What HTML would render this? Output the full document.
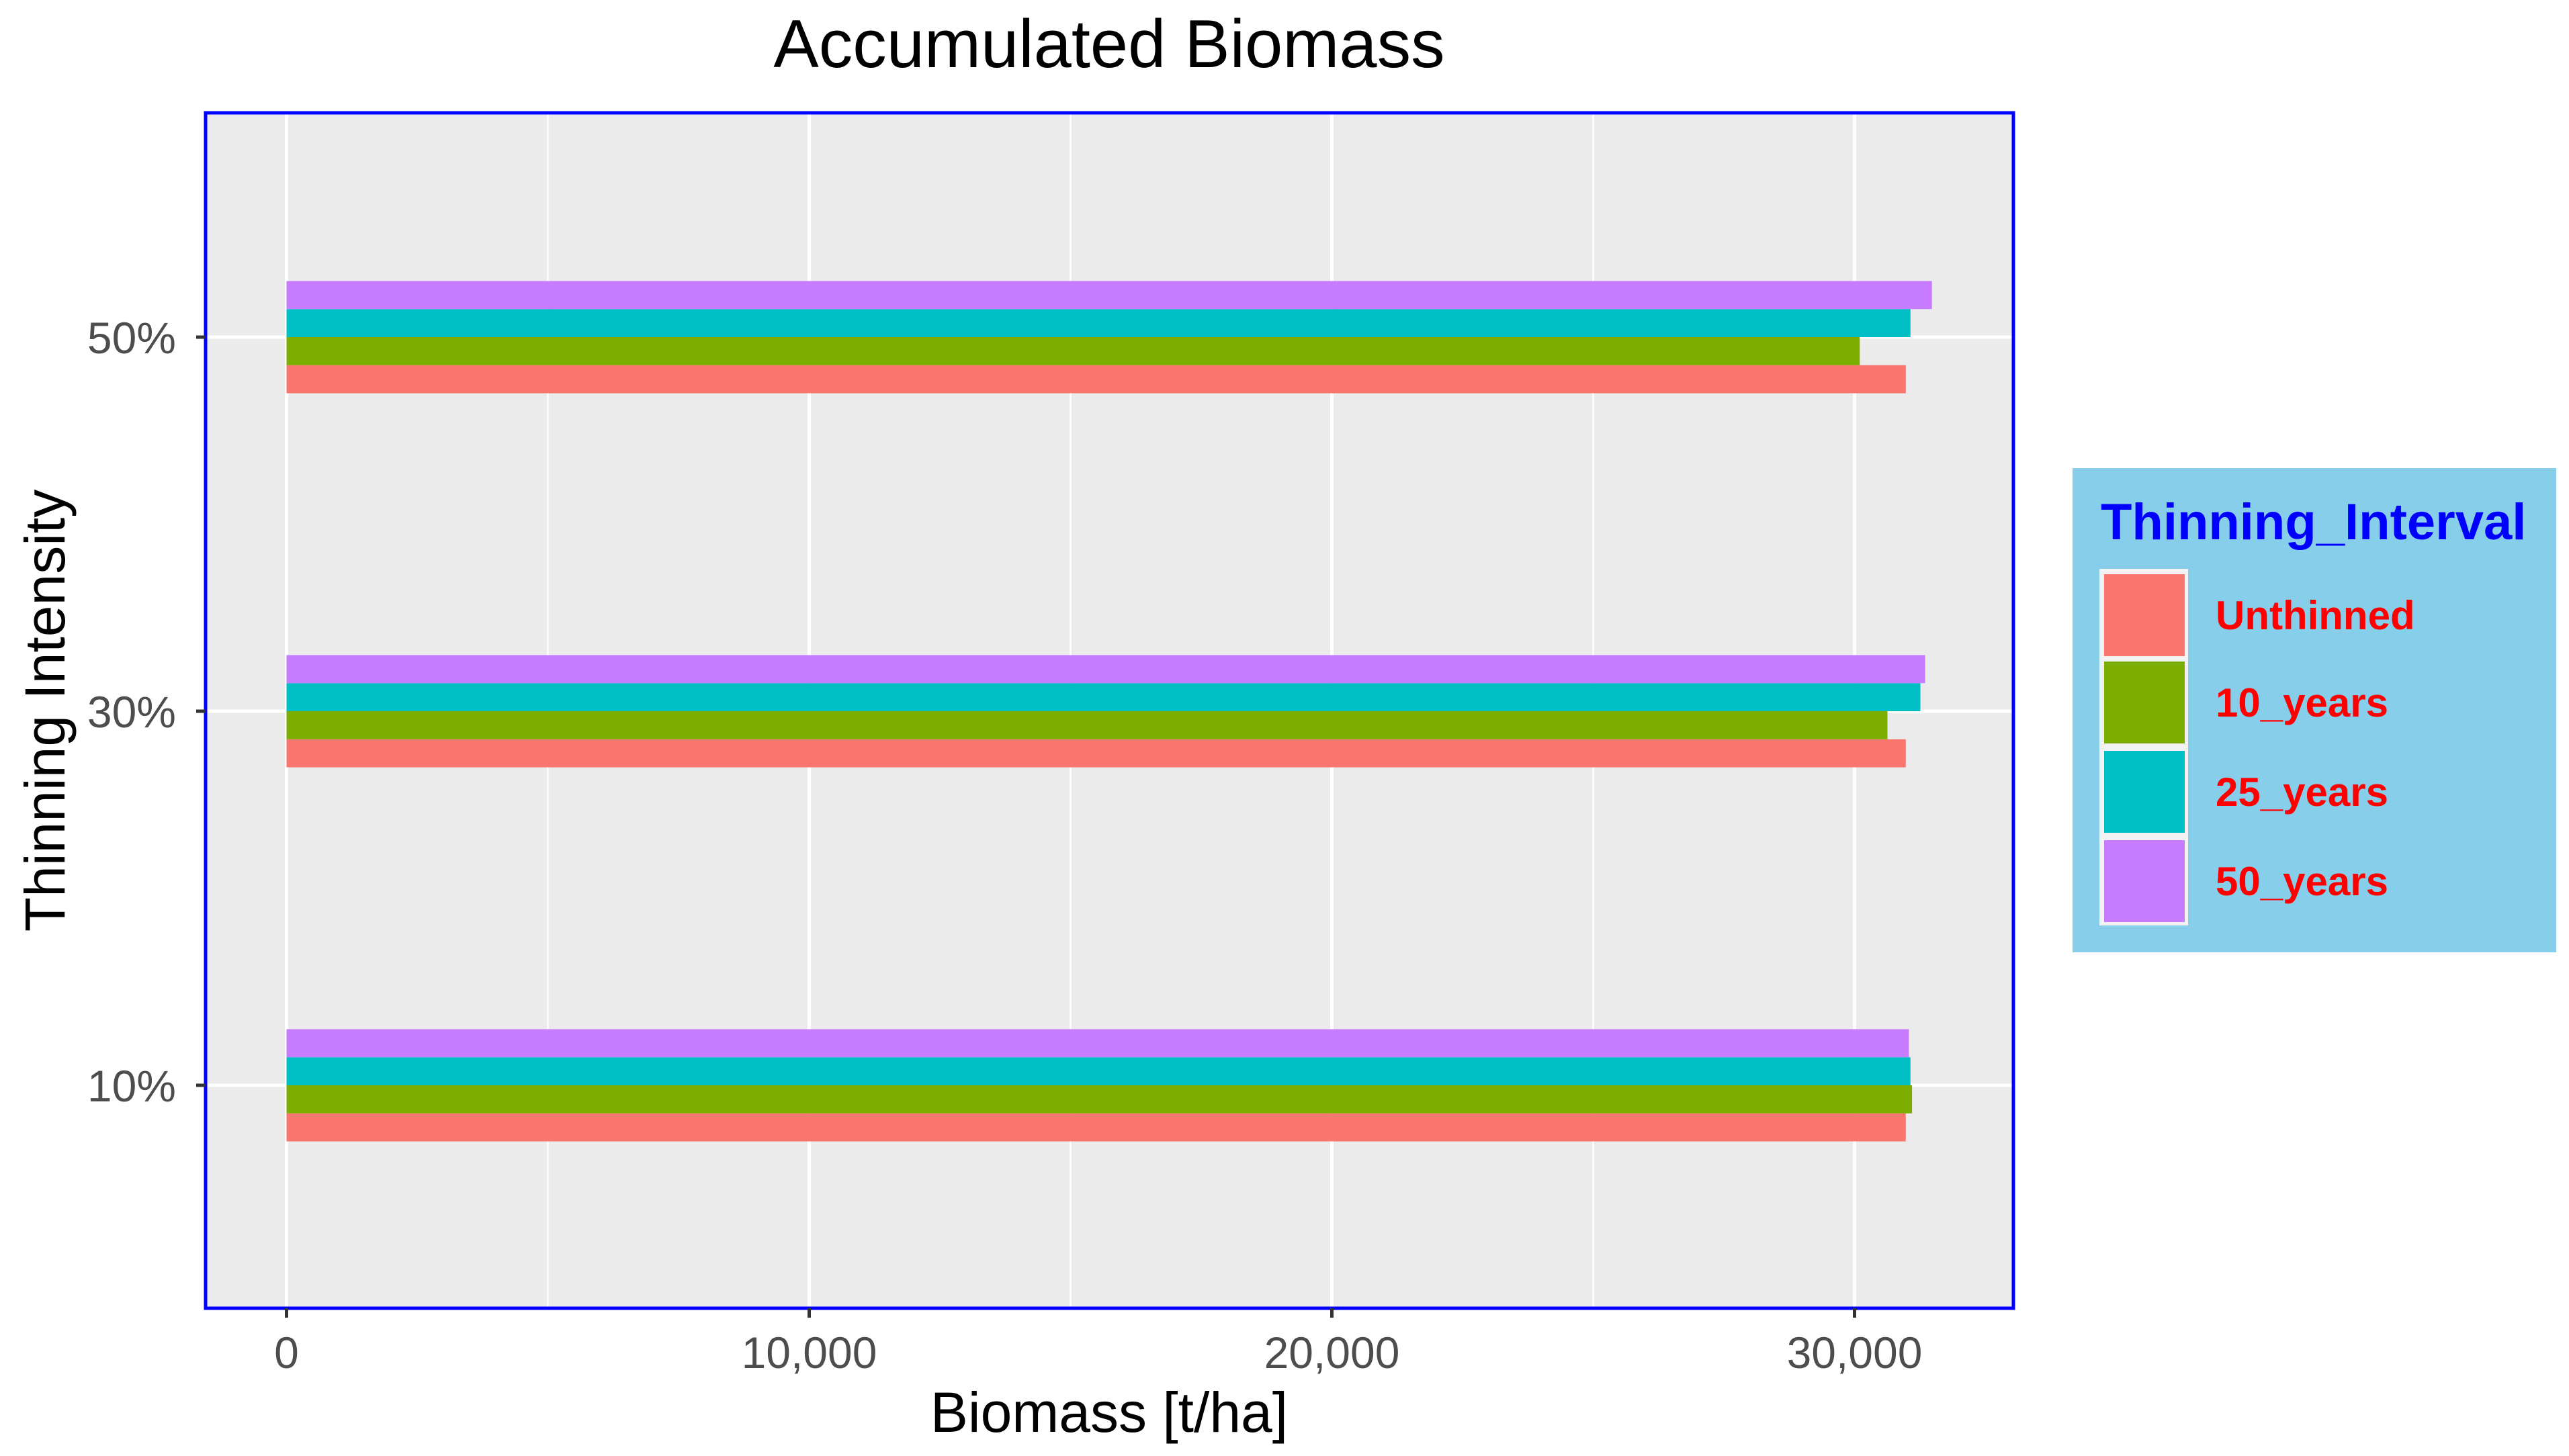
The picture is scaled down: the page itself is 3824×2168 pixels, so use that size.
<!DOCTYPE html>
<html><head><meta charset="utf-8"><style>
html,body{margin:0;padding:0;background:#fff;}
svg{display:block;font-family:"Liberation Sans",Arial,sans-serif;}
</style></head><body>
<svg id="chart" width="3824" height="2168" viewBox="0 0 3824 2168" xmlns="http://www.w3.org/2000/svg">
<rect x="0" y="0" width="3824" height="2168" fill="#fff"/>
<text x="1651" y="100" font-size="101" text-anchor="middle" fill="#000">Accumulated Biomass</text>
<rect x="306" y="168" width="2691" height="1780" fill="#ebebeb"/>
<g id="grid"></g>
<g id="bars"></g>
<rect x="306" y="168" width="2691" height="1780" fill="none" stroke="#0000ff" stroke-width="5"/>
<g id="axes"></g>
<text x="1651" y="2132" font-size="84" text-anchor="middle" fill="#000">Biomass [t/ha]</text>
<text transform="translate(96,1058) rotate(-90)" font-size="84" text-anchor="middle" fill="#000">Thinning Intensity</text>
<g>
<rect x="3085" y="697" width="720" height="721" fill="#87ceeb"/>
<text x="3127" y="803" font-size="76" font-weight="bold" fill="#0000ff">Thinning_Interval</text>
<rect x="3125" y="847" width="132" height="531" fill="#f2f2f2"/>
<g id="legend-items"></g>
</g>
</svg>
<script>
const categories = ["10%", "30%", "50%"];
const seriesNames = ["Unthinned", "10_years", "25_years", "50_years"];
const seriesColors = ["#f8766d", "#7cae00", "#00bfc4", "#c77cff"];
const unthinned = [30980, 30980, 30980];
const years10 = [31100, 30630, 30100];
const years25 = [31070, 31260, 31070];
const years50 = [31040, 31350, 31480];
const xTicks = [0, 10000, 20000, 30000];
const xTickLabels = ["0", "10,000", "20,000", "30,000"];
const xMinor = [5000, 15000, 25000];

const NS = "http://www.w3.org/2000/svg";
const series = [unthinned, years10, years25, years50];
const X0 = 426.5, PXPER = 0.0778;
function xs(v){ return X0 + v * PXPER; }
function ys(i){ return 1616 - i * 557; }
const BAND = 557, BARW = 0.3 * BAND;
function mk(tag, attrs, parent){
  const e = document.createElementNS(NS, tag);
  for (const k in attrs) e.setAttribute(k, attrs[k]);
  parent.appendChild(e); return e;
}
const grid = document.getElementById('grid');
const bars = document.getElementById('bars');
const axes = document.getElementById('axes');
const L = 306, R = 2997, T = 168, B = 1948;
xMinor.forEach(v => {
  const l = mk('line', {x1: xs(v), x2: xs(v), y1: T, y2: B, stroke: '#fff', 'stroke-width': 2.5}, grid);
  
  
});
xTicks.forEach(v => {
  const l = mk('line', {x1: xs(v), x2: xs(v), y1: T, y2: B, stroke: '#fff', 'stroke-width': 5}, grid);
  
  
});
categories.forEach((c, i) => {
  const l = mk('line', {x1: L, x2: R, y1: ys(i), y2: ys(i), stroke: '#fff', 'stroke-width': 5}, grid);
  
  
});
categories.forEach((c, i) => {
  const top = ys(i) - BARW / 2, h = BARW / 4;
  series.forEach((s, j) => {
    const y = top + (3 - j) * h;
    const r = mk('rect', {x: xs(0), y: y, width: xs(s[i]) - xs(0), height: h, fill: seriesColors[j]}, bars);
    
    
  });
});
xTicks.forEach((v, i) => {
  const t = mk('line', {x1: xs(v), x2: xs(v), y1: B, y2: B + 14, stroke: '#333', 'stroke-width': 5}, axes);
  
  
  const tx = mk('text', {x: xs(v), y: 2037, 'font-size': 66, 'text-anchor': 'middle', fill: '#4d4d4d'}, axes);
  tx.textContent = xTickLabels[i];
  
  
});
categories.forEach((c, i) => {
  const t = mk('line', {x1: L - 14, x2: L, y1: ys(i), y2: ys(i), stroke: '#333', 'stroke-width': 5}, axes);
  
  
  const tx = mk('text', {x: 262, y: ys(i) + 24, 'font-size': 66, 'text-anchor': 'end', fill: '#4d4d4d'}, axes);
  tx.textContent = c;
  
  
});
const li = document.getElementById('legend-items');
const keyY = [855, 985, 1118, 1251];
seriesNames.forEach((n, j) => {
  const r = mk('rect', {x: 3132, y: keyY[j], width: 120, height: 122, fill: seriesColors[j]}, li);
  
  
  const t = mk('text', {x: 3298, y: keyY[j] + 82, 'font-size': 60, 'font-weight': 'bold', fill: '#ff0000'}, li);
  t.textContent = n;
  
  
});
</script>
</body></html>
